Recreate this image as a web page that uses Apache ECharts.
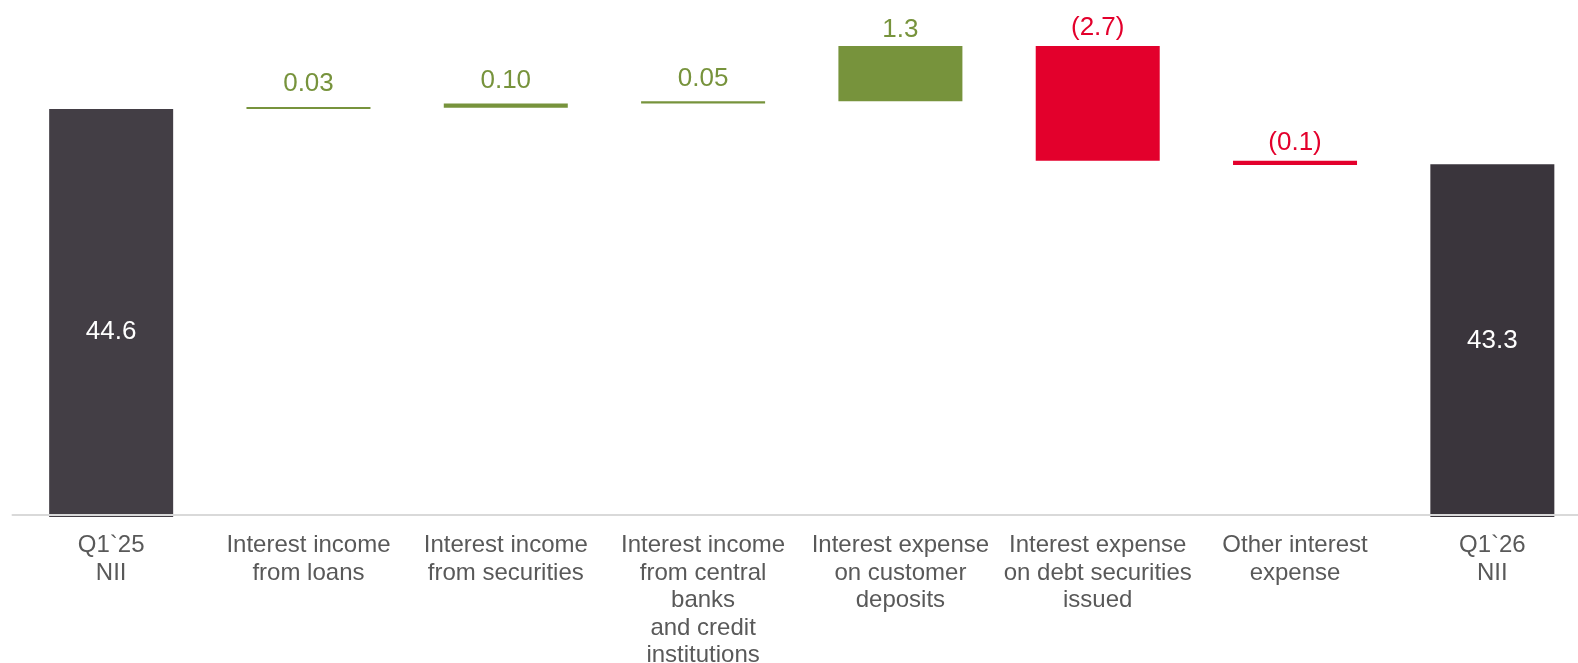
<!DOCTYPE html>
<html>
<head>
<meta charset="utf-8">
<script src="https://cdn.jsdelivr.net/npm/echarts@6/dist/echarts.min.js"></script>
<style>
  html, body { margin: 0; padding: 0; background: #ffffff; }
  #chart { width: 1578px; height: 663px; }
</style>
</head>
<body>
<div id="chart"></div>
<script>
// NII bridge: opening total, individual drivers, closing total
const categories = [
  'Q1`25\nNII',
  'Interest income\nfrom loans',
  'Interest income\nfrom securities',
  'Interest income\nfrom central\nbanks\nand credit\ninstitutions',
  'Interest expense\non customer\ndeposits',
  'Interest expense\non debt securities\nissued',
  'Other interest\nexpense',
  'Q1`26\nNII'
];
const openingTotal = 44.6;
const closingTotal = 43.3;
const changes = [0.03, 0.10, 0.05, 1.3, -2.7, -0.1];
const changeLabels = ['0.03', '0.10', '0.05', '1.3', '(2.7)', '(0.1)'];

const FONT = '"Liberation Sans", Arial, sans-serif';
const DARK_OPEN = '#433E45';
const DARK_CLOSE = '#3A353C';
const GREEN = '#77933C';
const RED = '#E3002C';

// floating segments: an invisible base plus a visible delta on top
const baseData = [0];
const deltaData = [];
let running = openingTotal;
changes.forEach(function (d) {
  const next = running + d;
  baseData.push(Math.min(running, next));
  running = next;
});
baseData.push(0);

deltaData.push({
  value: openingTotal,
  itemStyle: { color: DARK_OPEN },
  label: { show: true, position: 'inside', color: '#ffffff', offset: [0, 19], formatter: String(openingTotal) }
});
changes.forEach(function (d, i) {
  const up = d >= 0;
  const small = Math.abs(d) < 0.5;
  deltaData.push({
    value: Math.abs(d),
    itemStyle: { color: up ? GREEN : RED },
    label: {
      show: true,
      position: 'top',
      distance: up ? (small ? 10 : 3) : 5,
      color: up ? GREEN : RED,
      formatter: changeLabels[i]
    }
  });
});
deltaData.push({
  value: closingTotal,
  itemStyle: { color: DARK_CLOSE },
  label: { show: true, position: 'inside', color: '#ffffff', formatter: String(closingTotal) }
});

const chart = echarts.init(document.getElementById('chart'), null, { renderer: 'canvas' });
chart.setOption({
  animation: false,
  backgroundColor: '#ffffff',
  textStyle: { fontFamily: FONT },
  grid: { left: 12.5, right: -13, top: 7, bottom: 146, outerBoundsMode: 'none', containLabel: false },
  xAxis: {
    type: 'category',
    data: categories,
    offset: -2,
    z: 5,
    axisTick: { show: false },
    axisLine: { show: true, lineStyle: { color: '#D9D9D9', width: 2 } },
    axisLabel: {
      interval: 0,
      margin: 17,
      color: '#595959',
      fontFamily: FONT,
      fontSize: 24,
      lineHeight: 27.5,
      align: 'center'
    }
  },
  yAxis: {
    type: 'value',
    min: 35,
    max: 47,
    show: false,
    splitLine: { show: false }
  },
  series: [
    {
      type: 'bar',
      stack: 'bridge',
      data: baseData,
      barWidth: 124,
      itemStyle: { color: 'transparent' },
      emphasis: { disabled: true },
      silent: true
    },
    {
      type: 'bar',
      stack: 'bridge',
      data: deltaData,
      barWidth: 124,
      barMinHeight: 2,
      label: { fontFamily: FONT, fontSize: 26 }
    }
  ]
});
</script>
</body>
</html>
